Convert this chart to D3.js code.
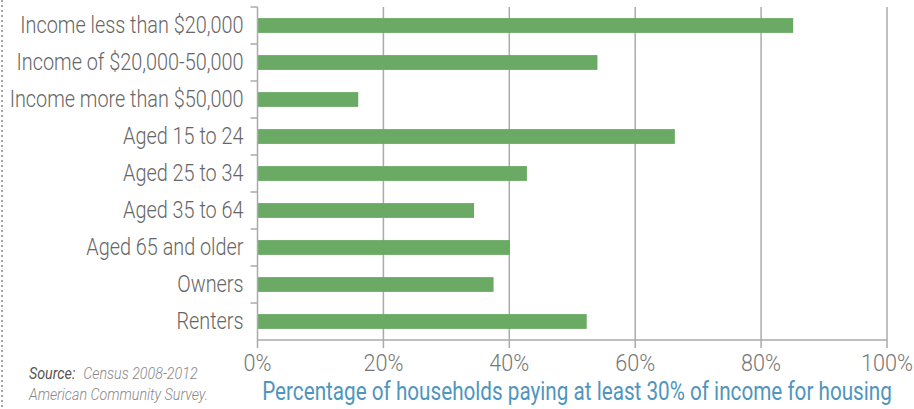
<!DOCTYPE html>
<html>
<head>
<meta charset="utf-8">
<script src="https://cdn.jsdelivr.net/npm/d3@7"></script>
<style>
  body { margin: 0; background: #fff; }
  text { font-family: Roboto, "Noto Sans", sans-serif; font-weight: 300; }
</style>
</head>
<body>
<svg id="chart"></svg>
<script>
// Chart data
var categories = ["Income less than $20,000", "Income of $20,000-50,000", "Income more than $50,000",
  "Aged 15 to 24", "Aged 25 to 34", "Aged 35 to 64", "Aged 65 and older", "Owners", "Renters"];
var values = [85.1, 54.0, 16.0, 66.3, 42.8, 34.4, 40.1, 37.5, 52.3];
var xTicks = [0, 20, 40, 60, 80, 100];

var width = 914, height = 409;
var margin = {top: 7, right: 27, bottom: 69, left: 257.5};

var svg = d3.select("#chart")
  .attr("width", width)
  .attr("height", height);

var x = d3.scaleLinear().domain([0, 100]).range([margin.left, width - margin.right]);
var y = d3.scaleBand().domain(categories).range([margin.top, height - margin.bottom]).paddingInner(0.6).paddingOuter(0.3);
var yEdge = d3.scaleBand().domain(categories).range([margin.top, height - margin.bottom]);

// squeeze a text group horizontally so the widest item matches the condensed look
function condense(sel, targetWidth) {
  var w = d3.max(sel.nodes(), n => n.getComputedTextLength());
  return targetWidth / w;
}

// dotted rule on far left
svg.append("line")
  .attr("x1", 2).attr("x2", 2)
  .attr("y1", 0).attr("y2", height)
  .attr("stroke", "#888")
  .attr("stroke-width", 1.5)
  .attr("stroke-dasharray", "2,3");

// vertical gridlines
svg.append("g")
  .selectAll("line")
  .data(xTicks.slice(1))
  .enter().append("line")
  .attr("x1", d => x(d)).attr("x2", d => x(d))
  .attr("y1", margin.top).attr("y2", height - margin.bottom)
  .attr("stroke", "#aaa")
  .attr("stroke-width", 1.5);

// bars
svg.append("g")
  .selectAll("rect")
  .data(values)
  .enter().append("rect")
  .attr("x", x(0))
  .attr("y", (d, i) => y(categories[i]))
  .attr("width", d => x(d) - x(0))
  .attr("height", y.bandwidth())
  .attr("fill", "#6aaa64");

// y axis line and ticks
var yAxis = svg.append("g");
yAxis.append("line")
  .attr("x1", x(0)).attr("x2", x(0))
  .attr("y1", margin.top).attr("y2", height - margin.bottom)
  .attr("stroke", "#aaa").attr("stroke-width", 1.5);
yAxis.selectAll("line.tick")
  .data(categories)
  .enter().append("line")
  .attr("class", "tick")
  .attr("x1", x(0) - 7).attr("x2", x(0))
  .attr("y1", d => yEdge(d)).attr("y2", d => yEdge(d))
  .attr("stroke", "#aaa").attr("stroke-width", 1.5);
var yLabels = yAxis.selectAll("text")
  .data(categories)
  .enter().append("text")
  .attr("text-anchor", "end")
  .attr("dy", "0.35em")
  .attr("fill", "#666")
  .style("font-size", "24px")
  .text(d => d);
var sy = condense(yLabels, 234);
yLabels.attr("transform", d => "translate(" + (x(0) - 14) + "," + (y(d) + y.bandwidth() / 2 - 1) + ") scale(" + sy + ",1)");

// x axis
var xAxis = svg.append("g");
xAxis.append("line")
  .attr("x1", x(0)).attr("x2", x(100))
  .attr("y1", height - margin.bottom).attr("y2", height - margin.bottom)
  .attr("stroke", "#aaa").attr("stroke-width", 1.5);
xAxis.selectAll("line.tick")
  .data(xTicks)
  .enter().append("line")
  .attr("class", "tick")
  .attr("x1", d => x(d)).attr("x2", d => x(d))
  .attr("y1", height - margin.bottom).attr("y2", height - margin.bottom + 8)
  .attr("stroke", "#aaa").attr("stroke-width", 1.5);
var xLabels = xAxis.selectAll("text")
  .data(xTicks)
  .enter().append("text")
  .attr("text-anchor", "middle")
  .attr("fill", "#777")
  .style("font-size", "23px")
  .text(d => d + "%");
var sx = condense(xLabels, 52);
xLabels.attr("transform", d => "translate(" + x(d) + ",371) scale(" + sx + ",1)");

// axis title
var title = svg.append("text")
  .attr("text-anchor", "middle")
  .attr("fill", "#4f95bd")
  .style("font-size", "26px")
  .style("font-weight", "400")
  .text("Percentage of households paying at least 30% of income for housing");
title.attr("transform", "translate(577,400) scale(" + condense(title, 630) + ",1)");

// source note, fitted with textLength
var note = svg.append("g").attr("fill", "#888")
  .style("font-size", "17px")
  .style("font-style", "italic");
var srcLabel = note.append("text").attr("fill", "#555").style("font-weight", "400").text("Source:");
var srcText = note.append("text").text("Census 2008-2012");
var line2 = note.append("text").text("American Community Survey.");
var sn = condense(line2, 179);
[srcLabel, srcText, line2].forEach(function(t) {
  t.attr("textLength", t.node().getComputedTextLength() * sn)
   .attr("lengthAdjust", "spacingAndGlyphs");
});
var srcW = +srcLabel.attr("textLength");
srcLabel.attr("x", 29).attr("y", 378.5);
srcText.attr("x", 29 + srcW + 8).attr("y", 378.5);
line2.attr("x", 29).attr("y", 399.5);
</script>
</body>
</html>
